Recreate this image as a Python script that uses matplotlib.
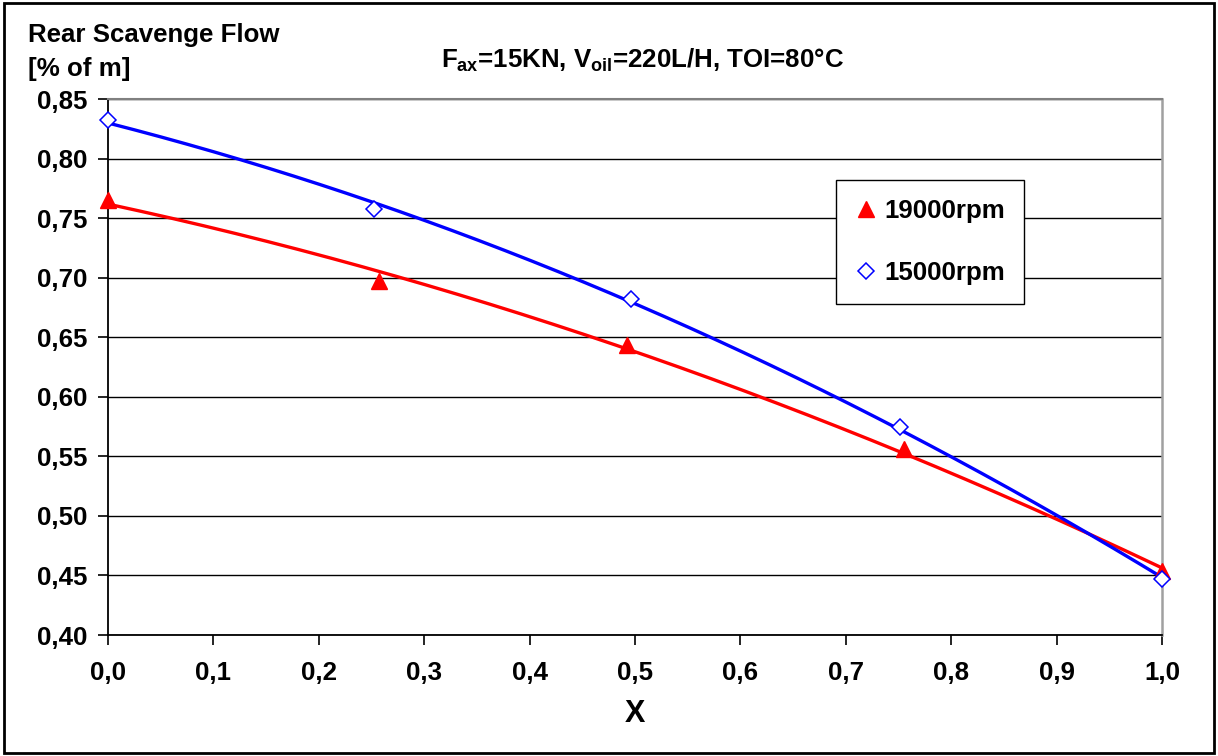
import numpy as np
import matplotlib.pyplot as plt
from matplotlib.patches import Rectangle

plt.rcParams['font.family'] = ['Liberation Sans', 'DejaVu Sans']
plt.rcParams['font.weight'] = 'bold'
plt.rcParams['mathtext.fontset'] = 'custom'
plt.rcParams['mathtext.rm'] = 'Liberation Sans:bold'
plt.rcParams['mathtext.it'] = 'Liberation Sans:bold'
plt.rcParams['mathtext.bf'] = 'Liberation Sans:bold'

# data
x_19000 = [0.0, 0.257, 0.492, 0.755, 1.0]
y_19000 = [0.765, 0.6975, 0.6436, 0.556, 0.454]
x_15000 = [0.0, 0.252, 0.496, 0.751, 1.0]
y_15000 = [0.832, 0.758, 0.682, 0.5745, 0.447]

x_ticks = [0.0, 0.1, 0.2, 0.3, 0.4, 0.5, 0.6, 0.7, 0.8, 0.9, 1.0]
x_ticklabels = ['0,0', '0,1', '0,2', '0,3', '0,4', '0,5', '0,6', '0,7', '0,8', '0,9', '1,0']
y_ticks = [0.40, 0.45, 0.50, 0.55, 0.60, 0.65, 0.70, 0.75, 0.80, 0.85]
y_ticklabels = ['0,40', '0,45', '0,50', '0,55', '0,60', '0,65', '0,70', '0,75', '0,80', '0,85']

fs = 18.6

fig = plt.figure(figsize=(12.18, 7.56), dpi=100)
ax = fig.add_axes([108 / 1218, 1 - 635 / 756, 1054 / 1218, 536 / 756])

# quadratic trendlines like the Excel ones
xs = np.linspace(0, 1, 200)
p_red = np.polyfit(x_19000, y_19000, 2)
p_blue = np.polyfit(x_15000, y_15000, 2)
ax.plot(xs, np.polyval(p_red, xs), color='#ff0000', lw=2.4, zorder=3)
ax.plot(xs, np.polyval(p_blue, xs), color='#0000ff', lw=2.4, zorder=3)

ax.plot(x_19000, y_19000, ls='none', marker='^', ms=12, color='#ff0000',
        label='19000rpm', zorder=4, clip_on=False)
ax.plot(x_15000, y_15000, ls='none', marker='D', ms=8, mfc='white', mec='#0000ff',
        mew=1.1, label='15000rpm', zorder=4, clip_on=False)

ax.set_xlim(0, 1)
ax.set_ylim(0.40, 0.85)
ax.set_xticks(x_ticks)
ax.set_xticklabels(x_ticklabels)
ax.set_yticks(y_ticks)
ax.set_yticklabels(y_ticklabels)
ax.tick_params(axis='both', labelsize=fs, direction='out', length=7, width=1.2, color='black')
ax.tick_params(axis='y', pad=8)
ax.tick_params(axis='x', pad=12)
for lbl in ax.get_xticklabels() + ax.get_yticklabels():
    lbl.set_fontweight('bold')

ax.grid(axis='y', color='black', lw=1.0, zorder=1)
ax.spines['left'].set_color('black')
ax.spines['bottom'].set_color('black')
ax.spines['left'].set_linewidth(1.3)
ax.spines['bottom'].set_linewidth(1.3)
ax.spines['top'].set_color('#808080')
ax.spines['right'].set_color('#a0a0a0')
ax.spines['top'].set_linewidth(1.5)
ax.spines['right'].set_linewidth(1.8)

ax.set_xlabel('X', fontsize=22, fontweight='bold', labelpad=10)

fig.text(28 / 1218, 1 - 42 / 756, 'Rear Scavenge Flow', fontsize=fs, fontweight='bold',
         ha='left', va='baseline')
fig.text(28 / 1218, 1 - 76 / 756, '[% of m]', fontsize=fs, fontweight='bold',
         ha='left', va='baseline')
fig.text(642 / 1218, 1 - 68 / 756, r'$F_{ax}$=15KN, $V_{oil}$=220L/H, TOI=80°C',
         fontsize=fs, fontweight='bold', ha='center', va='baseline')

leg = ax.legend(loc='upper left', bbox_to_anchor=(0.691, 0.849), borderaxespad=0,
                fancybox=False, edgecolor='black', framealpha=1,
                handlelength=0.8, handletextpad=0.3, labelspacing=1.45,
                borderpad=0.75, prop={'weight': 'bold', 'size': fs})
leg.get_frame().set_linewidth(1.0)

fig.patches.append(Rectangle((0.003, 0.004), 0.994, 0.992, transform=fig.transFigure,
                             fill=False, edgecolor='black', lw=2))

fig.savefig('out.png', dpi=100)
